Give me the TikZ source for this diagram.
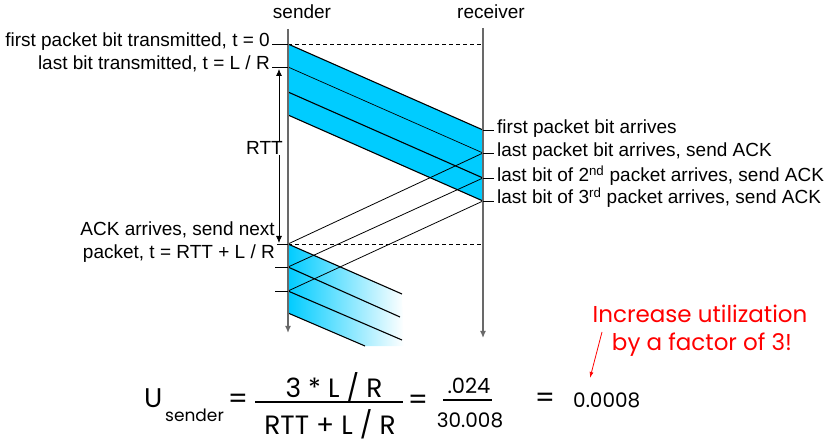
\documentclass[tikz,border=0pt]{standalone}
\usepackage{fontspec}
\setmainfont{Liberation Sans}
\newfontfamily\formfont{Poppins}
\usetikzlibrary{arrows.meta}
\definecolor{pktblue}{RGB}{0,204,255}
\definecolor{axisgray}{RGB}{105,105,105}
\begin{document}
\begin{tikzpicture}[x=1pt,y=-1pt,
  lbl/.style={font=\fontsize{19}{23}\selectfont, inner sep=0pt},
  frm/.style={font=\formfont\fontsize{#1}{#1}\selectfont, inner sep=0pt},
  timeline/.style={draw=axisgray, line width=1.3pt, -{Latex[length=7pt,width=6pt]}},
  pktedge/.style={draw=black, line width=1.1pt},
  pktmid/.style={draw=black, line width=0.7pt},
  tickline/.style={draw=black, line width=0.8pt},
  dashline/.style={draw=black, line width=0.6pt, dash pattern=on 4pt off 3pt},
  ackline/.style={draw=black, line width=0.8pt},
  redtxt/.style={font=\formfont\fontsize{23}{27}\selectfont, text=red, inner sep=0pt},
]
\useasboundingbox (0,0) rectangle (832,443);

% time lines
\coordinate (s0) at (288,29); \coordinate (s1) at (288,333);
\coordinate (r0) at (483,28); \coordinate (r1) at (483,338);

% packet points
\coordinate (p1s) at (288,44);  \coordinate (p1r) at (483,130);
\coordinate (p2s) at (288,67);  \coordinate (p2r) at (483,153);
\coordinate (p3s) at (288,92);  \coordinate (p3r) at (483,178);
\coordinate (p4s) at (288,115); \coordinate (p4r) at (483,201);
\coordinate (a1) at (288,244); \coordinate (a2) at (288,267);
\coordinate (a3) at (288,291); \coordinate (a4) at (288,313);
\coordinate (b1) at (402,294); \coordinate (b2) at (400,317);
\coordinate (b3) at (402,340); \coordinate (b4) at (365,346);
\coordinate (d1) at (483,44); \coordinate (d2) at (483,244);

% upper band
\fill[pktblue] (p1s) -- (p1r) -- (p4r) -- (p4s) -- cycle;
% lower faded band
\shade[left color=pktblue, middle color=pktblue!30, right color=white] (a1) -- (b1) -- (404,346) -- (b4) -- (a4) -- cycle;

\draw[pktedge] (p1s) -- (p1r);
\draw[pktmid] (p2s) -- (p2r);
\draw[pktedge] (p3s) -- (p3r);
\draw[pktedge] (p4s) -- (p4r);

\draw[dashline] (p1s) -- (d1);
\draw[dashline] (a1) -- (d2);

\draw[ackline] (p2r) -- (a1);
\draw[ackline] (p3r) -- (a2);
\draw[ackline] (p4r) -- (a3);

\draw[pktedge] (a1) -- (b1);
\draw[pktedge] (a2) -- (b2);
\draw[pktedge] (a3) -- (b3);
\draw[pktedge] (a4) -- (b4);

\draw[timeline] (s0) -- (s1);
\draw[timeline] (r0) -- (r1);

% headers
\node[lbl] (snd) at (302,12) {sender};
\node[lbl] (rcv) at (491,12) {receiver};

% left labels
\node[lbl, anchor=mid east] (l1) at (270,44) {first packet bit transmitted, t = 0};
\node[lbl, anchor=mid east] (l2) at (270,67) {last bit transmitted, t = L / R};
\draw[tickline] ([xshift=2pt]l1.mid east) -- (p1s);
\draw[tickline] ([xshift=2pt]l2.mid east) -- (p2s);

\node[lbl, anchor=base east] (ack1) at (275,236) {ACK arrives, send next};
\node[lbl, anchor=base east] (ack2) at (275,259) {packet, t = RTT + L / R};
\draw[tickline] (277,244) -- (a1);
\draw[tickline] (275,267) -- (a2);
\draw[tickline] (275,291) -- (a3);

% RTT arrow
\coordinate (rt0) at (279,69); \coordinate (rt1) at (279,243);
\draw[black, line width=0.8pt, {Latex[length=7pt,width=6pt]}-{Latex[length=7pt,width=6pt]}] (rt0) -- (rt1);
\node[lbl, anchor=mid east, fill=white] (rtt) at (283,152) {RTT};

% right labels
\node[lbl, anchor=mid west] (q1) at (497,131) {first packet bit arrives};
\node[lbl, anchor=mid west] (q2) at (497,154) {last packet bit arrives, send ACK};
\node[lbl, anchor=mid west] (q3) at (497,179) {last bit of 2\textsuperscript{nd} packet arrives, send ACK};
\node[lbl, anchor=mid west] (q4) at (497,201) {last bit of 3\textsuperscript{rd} packet arrives, send ACK};
\draw[tickline] (p1r) -- ++(11,0);
\draw[tickline] (p2r) -- ++(11,0);
\draw[tickline] (p3r) -- ++(11,0);
\draw[tickline] (p4r) -- ++(11,0);

% formula
\node[frm=27, anchor=base west] (U) at (144,407) {U};
\node[frm=17, anchor=base west] (Usub) at (165,421) {sender};
\node[frm=28] (eq1) at (238,401) {=};
\node[frm=26.5] (num1) at (334,387) {3 * L / R};
\node[frm=26.5] (den1) at (330,424) {RTT + L / R};
\draw[black, line width=1.3pt] (255,402) -- (403,402);
\node[frm=28] (eq2) at (418,402) {=};
\node[frm=21] (num2) at (469,386) {.024};
\node[frm=20] (den2) at (470,420) {30.008};
\draw[black, line width=2.2pt] (443,400) -- (492,400);
\node[frm=28] (eq3) at (545,400) {=};
\node[frm=20, anchor=west] (res) at (573,400) {0.0008};

% red note
\node[redtxt] (red1) at (700,314) {Increase utilization};
\node[redtxt] (red2) at (702,345) {by a factor of 3!};
\coordinate (ra0) at (602,332); \coordinate (ra1) at (590,378);
\draw[red, line width=0.8pt, -{Latex[length=6pt,width=4pt]}] (ra0) -- (ra1);
\end{tikzpicture}
\end{document}
